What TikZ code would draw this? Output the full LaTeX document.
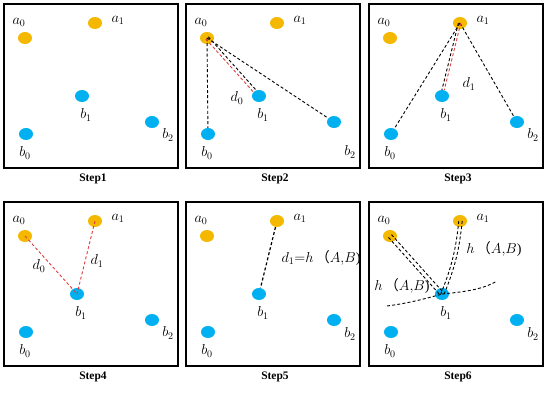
\documentclass[tikz,border=0pt]{standalone}
\usepackage{fontspec}
\setmainfont{Liberation Serif}
\newfontfamily\cjk{Noto Sans CJK SC}
\usetikzlibrary{shapes.geometric}
\definecolor{dotorange}{HTML}{F5B800}
\definecolor{dotblue}{HTML}{00B0F0}
\definecolor{dred}{HTML}{E03C3C}
\tikzset{
  boxline/.style={line width=1.6pt},
  adot/.style={ellipse,fill=dotorange,minimum width=14pt,minimum height=12pt,inner sep=0pt},
  bdot/.style={ellipse,fill=dotblue,minimum width=14pt,minimum height=12pt,inner sep=0pt},
  lab/.style={inner sep=0pt,font=\fontsize{14}{16}\selectfont},
  steplab/.style={inner sep=0pt,font=\bfseries\fontsize{11.5}{13}\selectfont},
  blk/.style={dash pattern=on 3pt off 2.2pt,line width=0.9pt},
  rdl/.style={blk,draw=dred},
}
\newcommand\mypanel[5]{% #1 number, #2 x, #3 y, #4 b1 x, #5 b2 label y
  \begin{scope}[shift={(#2,#3)}]
    \draw[boxline] (0,0) rectangle (174,164);
    \node[adot] (p#1a0) at (21,34) {};
    \node[adot] (p#1a1) at (91,19) {};
    \node[bdot] (p#1b1) at (#4,92) {};
    \node[bdot] (p#1b0) at (22,130) {};
    \node[bdot] (p#1b2) at (148,118) {};
    \node[lab] (p#1la0) at (15,18) {$a_0$};
    \node[lab] (p#1la1) at (114,16) {$a_1$};
    \node[lab] (p#1lb1) at (#4+4,111) {$b_1$};
    \node[lab] (p#1lb0) at (21,149) {$b_0$};
    \node[lab] (p#1lb2) at (164,#5) {$b_2$};
    \node[steplab] (p#1step) at (89,175) {Step#1};
  \end{scope}}
\begin{document}
\begin{tikzpicture}[x=1pt,y=-1pt]
\useasboundingbox (0,0) rectangle (550,392);
\mypanel{1}{4}{4}{78}{131}
\mypanel{2}{186}{4}{73}{148}
\mypanel{3}{369}{4}{73}{131}
\mypanel{4}{4}{202}{73}{131}
\mypanel{5}{186}{202}{73}{132}
\mypanel{6}{369}{202}{73}{132}
% Step 2
\draw[blk] (p2a0.center) -- (p2b0);
\draw[blk] (p2a0.center) -- (p2b2);
\draw[blk,transform canvas={xshift=1.3pt,yshift=1.2pt}] (p2a0.center) -- (p2b1);
\draw[rdl,transform canvas={xshift=-1.1pt,yshift=-1.0pt}] (p2a0.center) -- (p2b1);
\node[lab] (p2d0) at (237,98) {$d_0$};
% Step 3
\draw[blk] (p3a1.center) -- (p3b0);
\draw[blk] (p3a1.center) -- (p3b2);
\draw[blk,transform canvas={xshift=-1.6pt}] (p3a1.center) -- (p3b1);
\draw[rdl,transform canvas={xshift=0.8pt}] (p3a1.center) -- (p3b1);
\node[lab] (p3d1) at (469,84) {$d_1$};
% Step 4
\draw[rdl] (p4a0.center) -- (p4b1.center);
\draw[rdl] (p4a1.center) -- (p4b1.center);
\node[lab] (p4d0) at (39,266) {$d_0$};
\node[lab] (p4d1) at (97,261) {$d_1$};
% Step 5
\draw[blk,line width=1.2pt] (p5a1) -- (p5b1);
\node[lab] (p5d1) at (321,258) {$d_1{=}h$\,{\cjk（}$A{,}B$)};
% Step 6
\draw[blk,transform canvas={xshift=1.5pt,yshift=1.4pt}] (p6a0.center) -- (p6b1.center);
\draw[blk,transform canvas={xshift=-1.5pt,yshift=-1.4pt}] (p6a0.center) -- (p6b1.center);
\draw[blk,transform canvas={xshift=2.2pt}] (p6a1.center) to[bend left=8] (p6b1.center);
\draw[blk,transform canvas={xshift=-1.2pt}] (p6a1.center) to[bend left=8] (p6b1.center);
\coordinate (p6l) at (387,306);
\coordinate (p6r) at (497,281);
\draw[blk] (p6l) .. controls (410,303) and (428,298) .. (p6b1.center);
\draw[blk] (p6b1.center) .. controls (462,292) and (482,290) .. (p6r);
\node[lab] (p6h1) at (494,249) {$h$\,{\cjk（}$A{,}B$)};
\node[lab] (p6h2) at (402,286) {$h$\,{\cjk（}$A{,}B$)};
\end{tikzpicture}
\end{document}
